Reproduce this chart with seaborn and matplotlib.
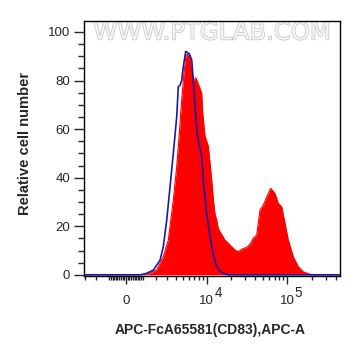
import numpy as np
import pandas as pd
import matplotlib
matplotlib.use("Agg")
import matplotlib.pyplot as plt
import matplotlib.patheffects as pe
import matplotlib.transforms as mtransforms
from matplotlib.ticker import FixedLocator, FixedFormatter, MultipleLocator
import seaborn as sns

# ---- data (fluorescence intensity, relative cell number) ----
red_x = [-3066, 1274, 1506, 2020, 2599, 3097, 3659, 4081, 4430, 4773, 5123, 5446,
         6016, 6465, 6781, 7344, 8093, 8682, 8938, 9556, 10515, 11603, 12151,
         12764, 13405, 14033, 14735, 17005, 19622, 22636, 24867, 27389, 31589,
         34711, 38119, 41994, 44193, 46127, 50679, 55815, 62536, 70679, 77635,
         85512, 93942, 103170, 118975, 137185, 158054, 191199, 220354, 448600]
red_y = [0, 0, 0.8, 2, 7.4, 14.3, 30.8, 44.5, 58, 72, 83, 90.5,
         91, 84, 80, 81, 77.5, 74.7, 66.5, 57, 53, 39, 31,
         25, 22.5, 19, 17.7, 14.3, 12.2, 10.2, 9.5, 10.5, 11.3,
         12.6, 15, 16.4, 22, 26.7, 28.7, 32, 35.6, 33.5, 29.4,
         28, 21.2, 14.3, 7.4, 3.3, 1.2, 0.2, 0, 0]

blue_x = [-3066, 836, 1227, 1752, 2302, 2599, 2933, 3281, 3659, 4081, 4293, 4528,
          4773, 5015, 5396, 5699, 6016, 6465, 6781, 7131, 7631, 8093, 8682,
          9097, 10040, 11048, 12151, 13405, 14735, 17005, 18530, 448600]
blue_y = [0, 0, 0.5, 1.9, 6, 11.5, 22.5, 36, 50, 65, 77.5, 78,
          80, 85.7, 92, 91.5, 91, 88.5, 80, 69, 58, 53, 49,
          39, 25, 16, 8, 3.5, 1.5, 0.3, 0, 0]

x_tick_values = [0, 1e4, 1e5]
x_tick_bases = ["0", "10", "10"]
x_tick_exponents = ["", "4", "5"]
y_tick_values = [0, 20, 40, 60, 80, 100]

sns.set_style("ticks")
plt.rcParams["font.family"] = ["Liberation Sans", "DejaVu Sans"]

fig = plt.figure(figsize=(3.61, 3.56), dpi=100)
ax = fig.add_axes([0.2327, 0.2247, 0.7091, 0.7163])

red_df = pd.DataFrame({"x": red_x, "y": red_y})
blue_df = pd.DataFrame({"x": blue_x, "y": blue_y})

ax.set_xscale("asinh", linear_width=2046)
ax.fill_between(red_df["x"], red_df["y"], 0, color="#ff0000", linewidth=0, zorder=2)
sns.lineplot(data=red_df, x="x", y="y", ax=ax, color="#ff0000", linewidth=0.8,
             sort=False, zorder=2)
sns.lineplot(data=blue_df, x="x", y="y", ax=ax, color="#1a1aa6", linewidth=1.2,
             sort=False, zorder=3)

ax.set_xlim(-3066, 448600)
ax.set_ylim(-0.5, 104.5)

ax.xaxis.set_major_locator(FixedLocator(x_tick_values))
ax.xaxis.set_major_formatter(FixedFormatter(x_tick_bases))
minor = list(range(-3000, 0, 1000)) + list(range(-900, 1000, 100)) + \
    list(range(1000, 10000, 1000)) + list(range(20000, 100000, 10000)) + \
    list(range(200000, 500000, 100000))
ax.xaxis.set_minor_locator(FixedLocator(minor))
ax.yaxis.set_major_locator(FixedLocator(y_tick_values))
ax.yaxis.set_minor_locator(MultipleLocator(5))

ax.tick_params(axis="x", which="major", length=6, width=1, pad=14, labelsize=9.5)
ax.tick_params(axis="x", which="minor", length=3, width=1)
ax.tick_params(axis="y", which="major", length=7, width=1, pad=3, labelsize=9.5)
ax.tick_params(axis="y", which="minor", length=4, width=1)
for lbl in ax.get_xticklabels():
    lbl.set_verticalalignment("baseline")
for s in ax.spines.values():
    s.set_visible(True)
    s.set_linewidth(1)
    s.set_color("black")

# exponents of the decade labels
blend = mtransforms.blended_transform_factory(ax.transData, ax.transAxes)
for v, e in zip(x_tick_values, x_tick_exponents):
    if e:
        t = mtransforms.offset_copy(blend, fig=fig, x=8.3, y=-14.8, units="points")
        ax.text(v, 0, e, transform=t, ha="center", va="baseline", fontsize=9.8,
                clip_on=False)

ax.set_xlabel("APC-FcA65581(CD83),APC-A", fontsize=10, fontweight="bold")
ax.xaxis.set_label_coords(0.492, -0.1855)
ax.set_ylabel("Relative cell number", fontsize=10.6, fontweight="bold")
ax.yaxis.set_label_coords(-0.202, 0.52)

ax.text(0.5, 0.955, "WWW.PTGLAB.COM", transform=ax.transAxes, ha="center", va="center",
        fontsize=17.5, family="DejaVu Sans", color="#f4f4f4", zorder=1,
        path_effects=[pe.withStroke(linewidth=1.0, foreground="#c4c4c4")])

fig.savefig("out.png", dpi=100)
